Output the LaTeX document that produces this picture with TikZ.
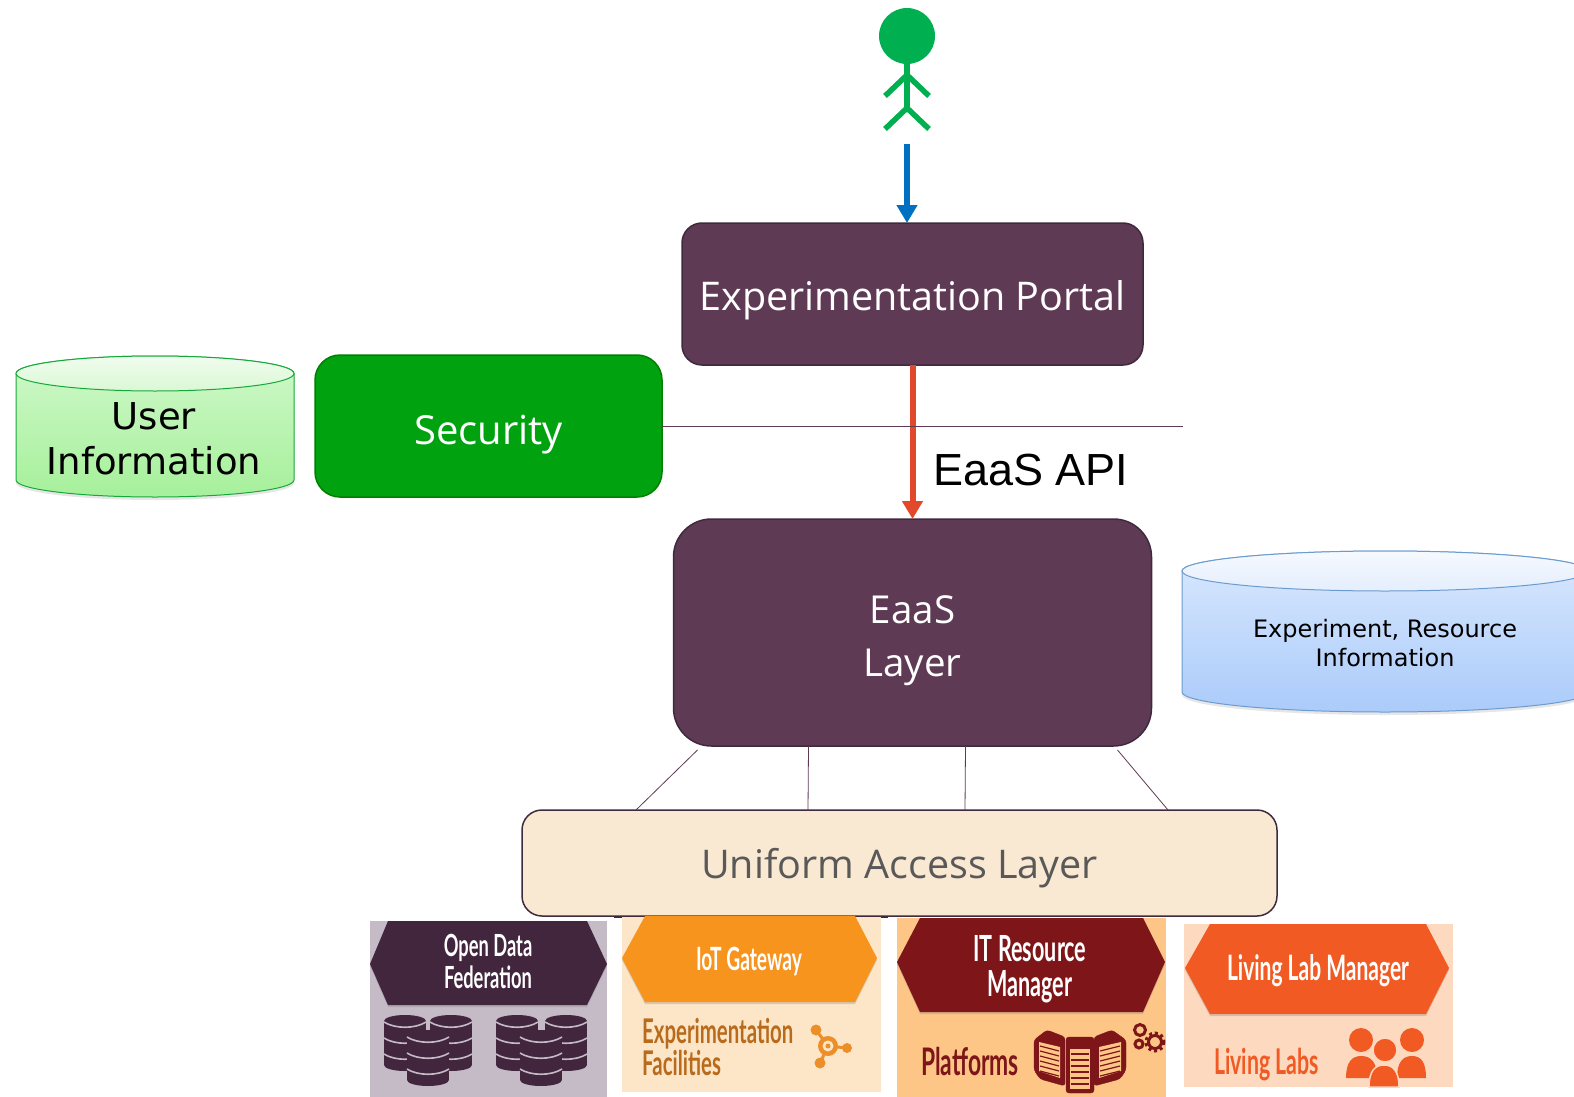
\documentclass[tikz,border=0pt]{standalone}
\usepackage{fontspec}
\setmainfont{Open Sans}
\newfontfamily\drumfont{DejaVu Sans}
\newfontfamily\apifont{Liberation Sans}
\newfontfamily\tilefont{Lato}
\usetikzlibrary{arrows.meta,shadows}
\definecolor{plum}{HTML}{5F3A54}
\definecolor{plumline}{HTML}{3F2A3D}
\definecolor{securegreen}{HTML}{00A30F}
\definecolor{stickgreen}{HTML}{00B050}
\definecolor{bluearrow}{HTML}{0070C0}
\definecolor{redarrow}{HTML}{E2492B}
\definecolor{accesscream}{HTML}{F9E8D2}
\definecolor{greenedge}{HTML}{17A83C}
\definecolor{greentop}{HTML}{CFF8C9}
\definecolor{greenbase}{HTML}{A6F09B}
\definecolor{greenlidtop}{HTML}{F0FCEE}
\definecolor{greenlidbase}{HTML}{DAF8D5}
\definecolor{blueedge}{HTML}{6C9BD0}
\definecolor{bluetop}{HTML}{D9E8FE}
\definecolor{bluebase}{HTML}{ABCBFA}
\definecolor{bluelidtop}{HTML}{F6F9FF}
\definecolor{bluelidbase}{HTML}{E4EEFD}
\definecolor{odfdark}{HTML}{41263D}
\definecolor{odftile}{HTML}{C5BBC6}
\definecolor{iotdark}{HTML}{F7941E}
\definecolor{iottile}{HTML}{FDE6C8}
\definecolor{iottext}{HTML}{B96B1C}
\definecolor{ithub}{HTML}{EC8F2A}
\definecolor{itdark}{HTML}{7E1619}
\definecolor{ittile}{HTML}{FDC686}
\definecolor{labdark}{HTML}{F15A22}
\definecolor{labtile}{HTML}{FDD9C0}
\newcommand{\narrow}[1]{\scalebox{.6}[1]{#1}}
\tikzset{
  layerbox/.style={draw=plumline,line width=1.5pt,fill=plum,text=white,align=center,outer sep=0pt,inner sep=0pt,text depth=0pt,font=\fontsize{39.5}{53}\selectfont},
  thinline/.style={draw=plum,line width=.8pt},
  stickline/.style={draw=stickgreen,line width=5.5pt},
  flowline/.style={line width=6pt,-{Triangle[length=18pt,width=20pt]}},
  greendrum/.style={draw=greenedge,line width=1pt,top color=greentop,bottom color=greenbase,drop shadow={opacity=.2,shadow xshift=0pt,shadow yshift=-3pt}},
  greenlid/.style={draw=greenedge,line width=1pt,top color=greenlidtop,bottom color=greenlidbase},
  bluedrum/.style={draw=blueedge,line width=1pt,top color=bluetop,bottom color=bluebase,drop shadow={opacity=.2,shadow xshift=0pt,shadow yshift=-3pt}},
  bluelid/.style={draw=blueedge,line width=1pt,top color=bluelidtop,bottom color=bluelidbase},
  drumtext/.style={text=black,align=center,inner sep=0pt,font=\drumfont},
  hexbar/.style={drop shadow={opacity=.3,shadow xshift=0pt,shadow yshift=-2pt}},
  tilehead/.style={text=white,align=center,inner sep=0pt,font=\tilefont\bfseries\fontsize{32}{33}\selectfont},
  tilelabel/.style={align=left,anchor=west,inner sep=0pt},
  pics/dbstack/.style={code={
    \fill[odfdark] (0,6) ellipse [x radius=21,y radius=6];
    \fill[odfdark] (-21,6) rectangle (21,50);
    \fill[odfdark] (0,50) ellipse [x radius=21,y radius=6];
    \foreach \k in {0,16,32}
      \draw[odftile,line width=1.6pt] (-21,\k+7) .. controls (-10,\k+14) and (10,\k+14) .. (21,\k+7);
  }},
}
\begin{document}
\begin{tikzpicture}[x=1pt,y=1pt,yscale=-1]
\useasboundingbox (0,0) rectangle (1574,1097);

\draw [plumline,line width=1.5pt] (614,917) -- (888,917);
\fill [odftile] (370,921) rectangle (607,1097);
\fill [iottile] (622,916) rectangle (881,1092);
\fill [ittile] (897,918) rectangle (1166,1097);
\fill [labtile] (1184,924) rectangle (1453,1087);

\node [circle,fill=stickgreen,minimum size=56pt,inner sep=0pt] (head) at (907,36) {};
\coordinate (hip) at (907,108);
\draw [stickline] (head.south) -- (hip);
\draw [stickline] (885,96) -- (907,75) -- (929,96);
\draw [stickline] (885,129) -- (hip) -- (929,129);

\node [layerbox,text height=32pt,rounded corners=20pt,minimum width=461pt,minimum height=142pt] (portal) at (912.5,294) {Experimentation Portal};
\node [layerbox,font=\fontsize{38.5}{53}\selectfont,text height=88pt,rounded corners=38pt,minimum width=478pt,minimum height=227pt] (eaas) at (912.5,632.5) {EaaS\\Layer};
\node [layerbox,font=\fontsize{40}{53}\selectfont,text height=36pt,draw=green!50!black,fill=securegreen,rounded corners=25pt,minimum width=347pt,minimum height=142pt] (security) at (488.5,426) {Security};
\node [layerbox,fill=accesscream,text=black!65,rounded corners=20pt,minimum width=755pt,minimum height=106pt] (access) at (899.5,863) {Uniform Access Layer};

\coordinate (walkstart) at (907,144);
\coordinate (apiend) at (1183,426);
\draw [flowline,draw=bluearrow,fill=bluearrow] (walkstart) -- (walkstart |- portal.north);
\draw [flowline,draw=redarrow,fill=redarrow] (portal.south) -- (eaas.north);
\draw [thinline] (security.east) -- (apiend);
\node [anchor=west,inner sep=0pt,font=\apifont\fontsize{45}{50}\selectfont] (apilabel) at (933,470) {EaaS API};

\draw [thinline] ([shift={(-215pt,4pt)}]eaas.south) -- ([xshift=-263.5pt]access.north);
\draw [thinline] ([xshift=-104pt]eaas.south) -- ([xshift=-91.5pt]access.north);
\draw [thinline] ([xshift=53pt]eaas.south) -- ([xshift=65.5pt]access.north);
\draw [thinline] ([shift={(205pt,4pt)}]eaas.south) -- ([xshift=268.5pt]access.north);

\path [greendrum] (16,480) arc [start angle=180,end angle=0,x radius=139,y radius=17] -- (294,373.5) arc [start angle=0,end angle=-180,x radius=139,y radius=17.5] -- cycle;
\path [greenlid] (155,373.5) ellipse [x radius=139,y radius=17.5];
\node [drumtext,font=\drumfont\fontsize{37}{45}\selectfont] (userinfo) at (154,439) {User\\Information};

\path [bluedrum] (1182,692) arc [start angle=180,end angle=0,x radius=203,y radius=20] -- (1588,571) arc [start angle=0,end angle=-180,x radius=203,y radius=20] -- cycle;
\path [bluelid] (1385,571) ellipse [x radius=203,y radius=20];
\node [drumtext,font=\drumfont\fontsize{24}{29}\selectfont] (expinfo) at (1385,643) {Experiment, Resource\\Information};

\fill [odfdark,hexbar] (370,964) -- (388,921) -- (587,921) -- (607,964) -- (587,1005) -- (388,1005) -- cycle;
\fill [iotdark,hexbar] (622,958) -- (645,916) -- (855,916) -- (877,958) -- (855,1002) -- (645,1002) -- cycle;
\fill [itdark,hexbar] (897,962) -- (920,918) -- (1143,918) -- (1165,962) -- (1143,1012) -- (920,1012) -- cycle;
\fill [labdark,hexbar] (1185,968) -- (1210,924) -- (1426,924) -- (1449,968) -- (1426,1014) -- (1210,1014) -- cycle;

\node [tilehead,font=\tilefont\bfseries\fontsize{30.5}{32}\selectfont] (odfhead) at (488,961) {\narrow{Open Data}\\\narrow{Federation}};
\node [tilehead] (iothead) at (749,961) {\narrow{IoT Gateway}};
\node [tilehead,font=\tilefont\bfseries\fontsize{36}{35}\selectfont] (ithead) at (1030,969) {\narrow{IT Resource}\\\narrow{Manager}};
\node [tilehead,font=\tilefont\bfseries\fontsize{35}{36}\selectfont] (labhead) at (1318,971) {\narrow{Living Lab Manager}};
\node [tilelabel,text=iottext,font=\tilefont\bfseries\fontsize{34}{30}\selectfont] (iotlabel) at (642,1047) {\narrow{Experimentation}\\\narrow{Facilities}};
\node [tilelabel,text=itdark,font=\tilefont\bfseries\fontsize{38}{30}\selectfont] (itlabel) at (921,1062) {\narrow{Platforms}};
\node [tilelabel,text=labdark,font=\tilefont\bfseries\fontsize{35.5}{30}\selectfont] (lablabel) at (1214,1065) {\narrow{Living Labs}};

\pic [transform shape] at (405,1015) {dbstack};
\pic [transform shape] at (451,1015) {dbstack};
\pic [transform shape] at (428,1030) {dbstack};
\pic [transform shape] at (517,1015) {dbstack};
\pic [transform shape] at (566,1015) {dbstack};
\pic [transform shape] at (541,1030) {dbstack};

\draw [ithub,line width=3pt] (816,1030) -- (828,1046) -- (847,1048);
\draw [ithub,line width=3pt] (828,1046) -- (820,1063);
\fill [ithub] (816,1030) circle (5.5) (847,1048) circle (5) (820,1063) circle (5.5) (828,1046) circle (10);
\fill [iottile] (828,1046) circle (5.5);
\fill [ithub] (828,1046) circle (2.5);

\filldraw [fill=itdark,draw=itdark,rounded corners=3pt] (1034,1040) -- (1047,1030) -- (1065,1037) -- (1065,1086) -- (1040,1079) -- (1034,1070) -- cycle;
\filldraw [fill=itdark,draw=itdark,rounded corners=3pt] (1094,1037) -- (1112,1030) -- (1126,1040) -- (1126,1070) -- (1120,1079) -- (1094,1086) -- cycle;
\filldraw [fill=itdark,draw=itdark,rounded corners=3pt] (1066,1037) -- (1094,1037) -- (1094,1093) -- (1066,1093) -- cycle;
\fill [ittile] (1039,1042) -- (1060,1047) -- (1060,1078) -- (1039,1071) -- cycle;
\fill [ittile] (1099,1047) -- (1121,1042) -- (1121,1071) -- (1099,1078) -- cycle;
\fill [ittile] (1070,1049) rectangle (1090,1089);
\foreach \s in {0,...,5} {
  \draw [itdark,line width=1.2pt] (1040,1046+\s*5) -- (1059,1051+\s*5);
  \draw [itdark,line width=1.2pt] (1100,1051+\s*5) -- (1120,1046+\s*5);
  \draw [itdark,line width=1.2pt] (1071,1054+\s*6) -- (1089,1054+\s*6);
}
\draw [itdark,line width=3pt] (1140,1030) circle (5.5) (1139,1044) circle (4);
\draw [itdark,line width=3pt] (1155,1042) circle (6.5);
\draw [itdark,line width=3pt,dash pattern=on 3pt off 3pt] (1155,1042) circle (9);

\fill [labdark] (1361,1040) circle (12) (1412,1040) circle (12);
\fill [labdark] (1346,1078) .. controls (1346,1062) and (1352,1056) .. (1361,1056) .. controls (1371,1056) and (1377,1062) .. (1377,1078) -- cycle;
\fill [labdark] (1397,1078) .. controls (1397,1062) and (1403,1056) .. (1412,1056) .. controls (1421,1056) and (1426,1062) .. (1426,1078) -- cycle;
\filldraw [fill=labdark,draw=labtile,line width=1.5pt] (1385,1050) circle (12);
\filldraw [fill=labdark,draw=labtile,line width=1.5pt] (1369,1087) .. controls (1369,1071) and (1375,1065) .. (1384,1065) .. controls (1393,1065) and (1399,1071) .. (1399,1087) -- cycle;
\end{tikzpicture}
\end{document}
